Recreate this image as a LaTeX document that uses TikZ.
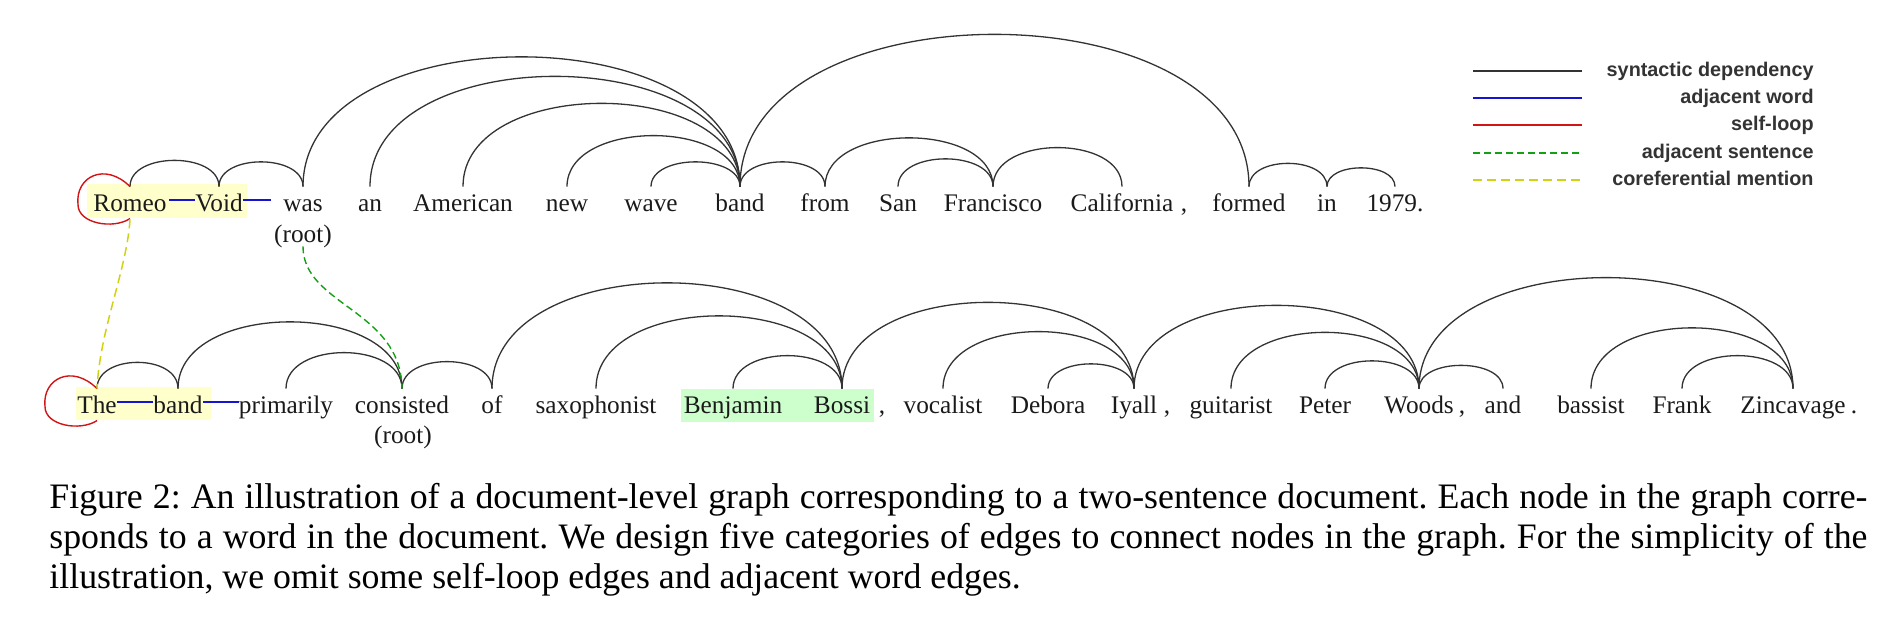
\documentclass[tikz,border=0pt]{standalone}
\usepackage{fontspec}
\setmainfont{Liberation Serif}
\newfontfamily\legendfont{Liberation Sans}
\usetikzlibrary{calc}
\definecolor{arcgray}{HTML}{333333}
\definecolor{wordcol}{HTML}{1A1A1A}
\definecolor{adjblue}{HTML}{1414D2}
\definecolor{loopred}{HTML}{D21414}
\definecolor{sentgreen}{HTML}{14A014}
\definecolor{corefyellow}{HTML}{D2D214}
\definecolor{hlyellow}{HTML}{FFFFCC}
\definecolor{hlgreen}{HTML}{CCFFCC}
\definecolor{legcol}{HTML}{333333}
\tikzset{
  word/.style={font=\fontsize{12.65pt}{15pt}\selectfont, inner sep=0pt, text height=12pt, text depth=4pt, anchor=base, text=wordcol},
  rootlbl/.style={font=\fontsize{12.65pt}{15pt}\selectfont, inner sep=0pt, text height=12pt, text depth=2pt, anchor=base, text=wordcol},
  dep/.style={draw=arcgray, line width=0.65pt},
  adj/.style={draw=adjblue, line width=0.7pt},
  selfloop/.style={draw=loopred, line width=0.7pt},
  adjsent/.style={draw=sentgreen, line width=0.7pt, dash pattern=on 3.5pt off 2pt},
  coref/.style={draw=corefyellow, line width=0.75pt, dash pattern=on 4.5pt off 2.5pt},
  legtext/.style={font=\legendfont\bfseries\fontsize{9.9pt}{12pt}\selectfont, text=legcol, inner sep=0pt, anchor=base east},
  captxt/.style={font=\frenchspacing\fontsize{17.9pt}{20pt}\selectfont, inner sep=0pt, anchor=base west, text=black}
}
\newcommand\deparc[3]{\draw[dep] (#1.north) .. controls +(0,-#3) and +(0,-#3) .. (#2.north);}
\newcommand\selfloopat[1]{\draw[selfloop] (#1.north) .. controls ($(#1.north)+(-25,-25)$) and ($(#1.north)+(-55,-10)$) .. ($(#1.north)+(-52,18)$) .. controls ($(#1.north)+(-52,37)$) and ($(#1.north)+(-17,43)$) .. ($(#1.north)+(0,32)$);}
\begin{document}
\begin{tikzpicture}[x=0.5pt,y=-0.5pt]
\useasboundingbox (0,0) rectangle (1903,621);
% highlights
\fill[hlyellow] (87,184) rectangle (247,218);
\fill[hlyellow] (76,387) rectangle (211,420);
\fill[hlgreen] (681,389) rectangle (874,422);
% top sentence
\node[word] (tRomeo) at (130,211) {Romeo};
\node[word] (tVoid) at (219,211) {Void};
\node[word] (twas) at (303,211) {was};
\node[rootlbl] (troot) at (303,242) {(root)};
\node[word] (tan) at (370,211) {an};
\node[word] (tAmerican) at (463,211) {American};
\node[word] (tnew) at (567,211) {new};
\node[word] (twave) at (651,211) {wave};
\node[word] (tband) at (740,211) {band};
\node[word] (tfrom) at (825,211) {from};
\node[word] (tSan) at (898,211) {San};
\node[word] (tFrancisco) at (993,211) {Francisco};
\node[word] (tCalifornia) at (1122,211) {California};
\node[word] (tcomma) at (1184,211) {,};
\node[word] (tformed) at (1249,211) {formed};
\node[word] (tin) at (1327,211) {in};
\node[word] (tyear) at (1395,211) {1979.};
% bottom sentence
\node[word] (bThe) at (97,413) {The};
\node[word] (bband) at (178,413) {band};
\node[word] (bprimarily) at (286,413) {primarily};
\node[word] (bconsisted) at (402,413) {consisted};
\node[rootlbl] (broot) at (403,443) {(root)};
\node[word] (bof) at (492,413) {of};
\node[word] (bsaxophonist) at (596,413) {saxophonist};
\node[word] (bBenjamin) at (733,413) {Benjamin};
\node[word] (bBossi) at (842,413) {Bossi};
\node[word] (bcommaA) at (882,413) {,};
\node[word] (bvocalist) at (943,413) {vocalist};
\node[word] (bDebora) at (1048,413) {Debora};
\node[word] (bIyall) at (1134,413) {Iyall};
\node[word] (bcommaB) at (1167,413) {,};
\node[word] (bguitarist) at (1231,413) {guitarist};
\node[word] (bPeter) at (1325,413) {Peter};
\node[word] (bWoods) at (1419,413) {Woods};
\node[word] (bcommaC) at (1462,413) {,};
\node[word] (band) at (1503,413) {and};
\node[word] (bbassist) at (1591,413) {bassist};
\node[word] (bFrank) at (1682,413) {Frank};
\node[word] (bZincavage) at (1793,413) {Zincavage};
\node[word] (bperiod) at (1854,413) {.};
% top arcs
\deparc{tRomeo}{tVoid}{35}
\deparc{tVoid}{twas}{33}
\deparc{twas}{tband}{173}
\deparc{tan}{tband}{147}
\deparc{tAmerican}{tband}{111}
\deparc{tnew}{tband}{68}
\deparc{twave}{tband}{33}
\deparc{tband}{tfrom}{33}
\deparc{tfrom}{tFrancisco}{65}
\deparc{tSan}{tFrancisco}{37}
\deparc{tFrancisco}{tCalifornia}{52}
\deparc{tband}{tformed}{203}
\deparc{tformed}{tin}{31}
\deparc{tin}{tyear}{25}
% bottom arcs
\deparc{bThe}{bband}{35}
\deparc{bband}{bconsisted}{89}
\deparc{bprimarily}{bconsisted}{48}
\deparc{bconsisted}{bof}{36}
\deparc{bof}{bBossi}{141}
\deparc{bsaxophonist}{bBossi}{97}
\deparc{bBenjamin}{bBossi}{44}
\deparc{bBossi}{bIyall}{115}
\deparc{bvocalist}{bIyall}{76}
\deparc{bDebora}{bIyall}{33}
\deparc{bIyall}{bWoods}{111}
\deparc{bguitarist}{bWoods}{75}
\deparc{bPeter}{bWoods}{37}
\deparc{bWoods}{band}{31}
\deparc{bWoods}{bZincavage}{148}
\deparc{bbassist}{bZincavage}{81}
\deparc{bFrank}{bZincavage}{44}
% adjacent word edges
\draw[adj] ($(tRomeo.base east)+(2,-11)$) -- ($(tVoid.base west)+(0,-11)$);
\draw[adj] ($(tVoid.base east)+(0,-11)$) -- ($(twas.base west)+(-12,-11)$);
\draw[adj] ($(bThe.base east)+(0,-11)$) -- ($(bband.base west)+(0,-11)$);
\draw[adj] ($(bband.base east)+(0,-11)$) -- ($(bprimarily.base west)+(0,-11)$);
% self loops
\selfloopat{tRomeo}
\selfloopat{bThe}
% coreferential mention
\draw[coref] (tRomeo.south) .. controls +(-3,50) and +(3,-60) .. (bThe.north);
% adjacent sentence
\draw[adjsent] (troot.south) .. controls +(0,59) and +(-1,-79) .. (bconsisted.north);
% legend
\coordinate (la1) at (1473,71); \coordinate (lb1) at (1582,71);
\coordinate (la2) at (1473,98); \coordinate (lb2) at (1582,98);
\coordinate (la3) at (1473,125); \coordinate (lb3) at (1582,125);
\coordinate (la4) at (1473,153); \coordinate (lb4) at (1582,153);
\coordinate (la5) at (1473,180); \coordinate (lb5) at (1582,180);
\draw[dep, draw=black!80] (la1) -- (lb1);
\draw[adj] (la2) -- (lb2);
\draw[selfloop] (la3) -- (lb3);
\draw[adjsent] (la4) -- (lb4);
\draw[coref] (la5) -- (lb5);
\node[legtext] (lt1) at (1814,76) {syntactic dependency};
\node[legtext] (lt2) at (1814,103) {adjacent word};
\node[legtext] (lt3) at (1814,130) {self-loop};
\node[legtext] (lt4) at (1814,158) {adjacent sentence};
\node[legtext] (lt5) at (1814,185) {coreferential mention};
% caption
\node[captxt] (cap1) at (49,508) {\hbox to 909pt{Figure 2: An illustration of a document-level graph corresponding to a two-sentence document. Each node in the graph corre-}};
\node[captxt] (cap2) at (49,548) {\hbox to 909pt{sponds to a word in the document. We design five categories of edges to connect nodes in the graph. For the simplicity of the}};
\node[captxt] (cap3) at (49,588) {illustration, we omit some self-loop edges and adjacent word edges.};
\end{tikzpicture}
\end{document}
